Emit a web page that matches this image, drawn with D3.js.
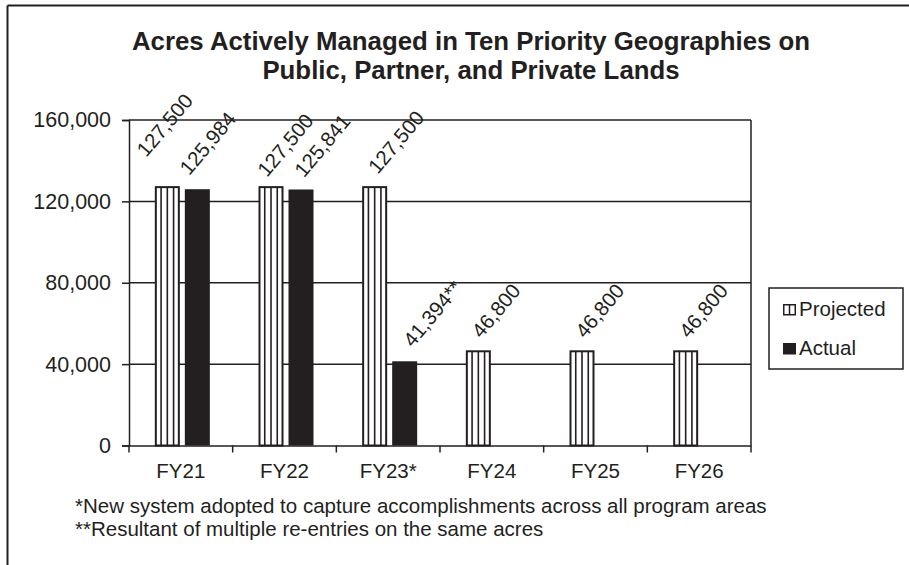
<!DOCTYPE html>
<html>
<head>
<meta charset="utf-8">
<script src="https://cdn.jsdelivr.net/npm/d3@7"></script>
<style>
  html, body { margin: 0; padding: 0; background: #fff; }
  svg { display: block; font-family: "Liberation Sans", Arial, sans-serif; }
</style>
</head>
<body>
<svg id="chart" width="909" height="565"></svg>
<script>
// ---- data ----
const categories = ["FY21", "FY22", "FY23*", "FY24", "FY25", "FY26"];
const seriesNames = ["Projected", "Actual"];
const projected = [127500, 127500, 127500, 46800, 46800, 46800];
const actual = [125984, 125841, 41394, null, null, null];
const actualLabels = ["125,984", "125,841", "41,394**", null, null, null];
const yTicks = [0, 40000, 80000, 120000, 160000];
const titleLines = ["Acres Actively Managed in Ten Priority Geographies on", "Public, Partner, and Private Lands"];
const footnotes = ["*New system adopted to capture accomplishments across all program areas",
                   "**Resultant of multiple re-entries on the same acres"];

// ---- layout ----
const ink = "#231f20";
const svg = d3.select("#chart");
const plot = { left: 129, right: 751, top: 120, bottom: 445.5 };

// outer chart border (top and left visible)
svg.append("line").attr("x1", 7.5).attr("x2", 909).attr("y1", 5.5).attr("y2", 5.5)
  .attr("stroke", ink).attr("stroke-width", 2);
svg.append("line").attr("x1", 7.5).attr("x2", 7.5).attr("y1", 5.5).attr("y2", 565)
  .attr("stroke", ink).attr("stroke-width", 2);

// title
svg.append("text").attr("x", 471).attr("y", 50).attr("text-anchor", "middle")
  .attr("font-weight", "bold").attr("font-size", 25.8).attr("fill", ink)
  .selectAll("tspan").data(titleLines).join("tspan")
  .attr("x", 471).attr("dy", (d, i) => i === 0 ? 0 : 28.5).text(d => d);

const x = d3.scaleBand().domain(categories).range([plot.left, plot.right]).padding(0);
const x1 = d3.scaleBand().domain(seriesNames).range([-26, 29]).paddingInner(1 / 6).paddingOuter(0);
const y = d3.scaleLinear().domain([0, 160000]).range([plot.bottom, plot.top]);

// gridlines
svg.append("g").selectAll("line").data(yTicks.filter(d => d > 0)).join("line")
  .attr("x1", plot.left).attr("x2", plot.right)
  .attr("y1", d => y(d)).attr("y2", d => y(d))
  .attr("stroke", ink).attr("stroke-width", 1.5);
// right plot border
svg.append("line").attr("x1", plot.right).attr("x2", plot.right)
  .attr("y1", plot.top).attr("y2", plot.bottom).attr("stroke", ink).attr("stroke-width", 1.5);

// y axis
const yAxis = svg.append("g").attr("transform", `translate(${plot.left},0)`)
  .call(d3.axisLeft(y).tickValues(yTicks).tickSize(7).tickPadding(11).tickFormat(d3.format(",")));
yAxis.select(".domain").attr("stroke", ink).attr("stroke-width", 1.5);
yAxis.selectAll(".tick line").attr("stroke", ink).attr("stroke-width", 1.5);
yAxis.selectAll("text").attr("font-size", 21.5).attr("fill", ink)
  .attr("font-family", "Liberation Sans, Arial, sans-serif");

// x axis
const xAxis = svg.append("g").attr("transform", `translate(0,${plot.bottom})`)
  .call(d3.axisBottom(x).tickSize(0).tickPadding(18));
xAxis.select(".domain").attr("stroke", ink).attr("stroke-width", 1.5);
xAxis.selectAll("text").attr("font-size", 20.5).attr("fill", ink)
  .attr("font-family", "Liberation Sans, Arial, sans-serif");
// x tick marks at category boundaries
const bounds = categories.map(c => x(c)).concat([plot.right]);
svg.append("g").selectAll("line").data(bounds).join("line")
  .attr("x1", d => d).attr("x2", d => d)
  .attr("y1", plot.bottom).attr("y2", plot.bottom + 7)
  .attr("stroke", ink).attr("stroke-width", 1.5);

// bars
const rows = categories.map((c, i) => ({ cat: c, i, proj: projected[i], act: actual[i], actLabel: actualLabels[i] }));
const center = c => x(c) + x.bandwidth() / 2;

const gBars = svg.append("g");
// projected (striped)
const pg = gBars.selectAll("g.proj").data(rows).join("g").attr("class", "proj");
pg.append("rect")
  .attr("x", d => center(d.cat) + x1("Projected") + 1)
  .attr("width", x1.bandwidth() - 2)
  .attr("y", d => y(d.proj) + 1)
  .attr("height", d => y(0) - y(d.proj) - 1)
  .attr("fill", "#fff").attr("stroke", ink).attr("stroke-width", 2);
[0.25, 0.5, 0.75].forEach(f => {
  pg.append("line")
    .attr("x1", d => center(d.cat) + x1("Projected") + x1.bandwidth() * f)
    .attr("x2", d => center(d.cat) + x1("Projected") + x1.bandwidth() * f)
    .attr("y1", d => y(d.proj) + 1).attr("y2", y(0))
    .attr("stroke", ink).attr("stroke-width", 1.6);
});
// actual (solid)
gBars.selectAll("rect.act").data(rows.filter(d => d.act != null)).join("rect").attr("class", "act")
  .attr("x", d => center(d.cat) + x1("Actual"))
  .attr("width", x1.bandwidth())
  .attr("y", d => y(d.act))
  .attr("height", d => y(0) - y(d.act))
  .attr("fill", ink);

// labels, rotated (a few nudged as in the original layout)
const fmt = d3.format(",");
const nudge = { "FY21|Projected": [-24, -17], "FY21|Actual": [-11, -2], "FY22|Projected": [-7, 3], "FY23*|Actual": [5, -2] };
const labels = [];
rows.forEach(d => {
  labels.push({ key: d.cat + "|Projected", cx: center(d.cat) + x1("Projected") + x1.bandwidth() / 2, top: y(d.proj), text: fmt(d.proj) });
  if (d.act != null) labels.push({ key: d.cat + "|Actual", cx: center(d.cat) + x1("Actual") + x1.bandwidth() / 2, top: y(d.act), text: d.actLabel });
});
svg.append("g").selectAll("text").data(labels).join("text")
  .attr("transform", d => {
    const n = nudge[d.key] || [0, 0];
    return `translate(${d.cx + 3 + n[0]},${d.top - 11 + n[1]}) rotate(-50)`;
  })
  .attr("font-size", 20.5).attr("fill", ink).text(d => d.text);

// legend
const lg = svg.append("g");
lg.append("rect").attr("x", 769).attr("y", 288).attr("width", 134).attr("height", 81)
  .attr("fill", "#fff").attr("stroke", ink).attr("stroke-width", 1.5);
const items = lg.selectAll("g").data(seriesNames).join("g")
  .attr("transform", (d, i) => `translate(783,${304 + i * 39})`);
items.append("rect").attr("x", 0.75).attr("y", 0.75).attr("width", 11.5).attr("height", 10)
  .attr("fill", d => d === "Actual" ? ink : "#fff").attr("stroke", ink).attr("stroke-width", 1.5);
items.filter(d => d === "Projected").append("line")
  .attr("x1", 6.5).attr("x2", 6.5).attr("y1", 0.75).attr("y2", 10.75)
  .attr("stroke", ink).attr("stroke-width", 1.5);
items.append("text").attr("x", 16).attr("y", 12).attr("font-size", 20.5).attr("fill", ink).text(d => d);

// footnotes
svg.append("g").selectAll("text").data(footnotes).join("text")
  .attr("x", 75).attr("y", (d, i) => 513 + i * 22.5)
  .attr("font-size", 20.5).attr("fill", ink).text(d => d);
</script>
</body>
</html>
